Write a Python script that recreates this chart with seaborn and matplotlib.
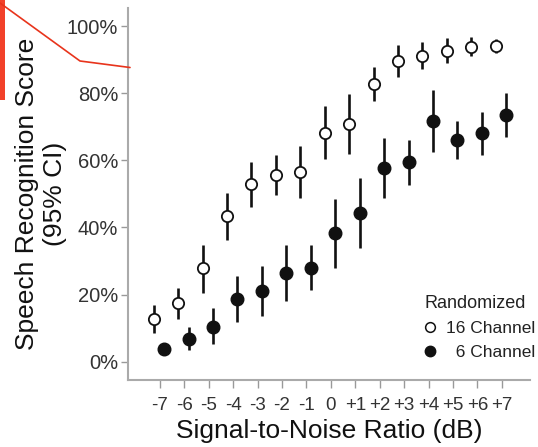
import numpy as np
import pandas as pd
import matplotlib.pyplot as plt
import seaborn as sns
from matplotlib.lines import Line2D
from matplotlib.patches import Rectangle

snr = [-7, -6, -5, -4, -3, -2, -1, 0, 1, 2, 3, 4, 5, 6, 7]
snr_labels = ["-7", "-6", "-5", "-4", "-3", "-2", "-1", "0",
              "+1", "+2", "+3", "+4", "+5", "+6", "+7"]

# 16 channel (open circles)
ch16_mean = [12.6, 17.4, 27.8, 43.4, 52.9, 55.6, 56.6, 68.3, 70.8, 82.7, 89.6, 91.1, 92.7, 93.9, 94.1]
ch16_lo = [8.5, 12.6, 20.6, 36.3, 46.2, 49.7, 48.7, 60.3, 61.9, 77.8, 84.8, 87.2, 88.9, 91.1, 91.9]
ch16_hi = [17.0, 22.0, 34.8, 50.2, 59.4, 61.6, 64.4, 76.2, 79.8, 87.9, 94.4, 95.4, 96.4, 96.7, 96.1]

# 6 channel (filled circles)
ch6_mean = [3.7, 6.8, 10.4, 18.7, 21.1, 26.3, 28.0, 38.3, 44.2, 57.6, 59.4, 71.7, 66.1, 68.1, 73.6]
ch6_lo = [2.0, 3.5, 5.3, 11.9, 13.6, 18.2, 21.4, 27.8, 33.8, 48.7, 52.7, 62.6, 60.4, 61.6, 66.9]
ch6_hi = [5.5, 10.4, 15.9, 25.5, 28.5, 34.8, 34.8, 48.4, 54.7, 66.6, 66.1, 81.0, 71.8, 74.5, 80.2]

groups = ["16 Channel", "6 Channel"]
offsets = {"16 Channel": -0.25, "6 Channel": 0.18}

df = pd.concat([
    pd.DataFrame({"snr": snr, "group": "16 Channel", "mean": ch16_mean, "lo": ch16_lo, "hi": ch16_hi}),
    pd.DataFrame({"snr": snr, "group": "6 Channel", "mean": ch6_mean, "lo": ch6_lo, "hi": ch6_hi}),
])
df["x"] = df["snr"] + df["group"].map(offsets)
df[["mean", "lo", "hi"]] = df[["mean", "lo", "hi"]] / 100

sns.set_theme(style="ticks")
plt.rcParams["font.family"] = ["Liberation Sans", "DejaVu Sans"]
plt.rcParams["text.color"] = "#222222"

fig = plt.figure(figsize=(5.38, 4.47), dpi=100)
ax = fig.add_axes([128 / 538, 1 - 380 / 447, 402 / 538, 372 / 447])

for g in groups:
    d = df[df["group"] == g]
    ax.vlines(d["x"], d["lo"], d["hi"], color="#111111", lw=1.9, zorder=2)

d16 = df[df["group"] == "16 Channel"]
d6 = df[df["group"] == "6 Channel"]
sns.scatterplot(data=d16, x="x", y="mean", ax=ax, s=66, marker="o",
                facecolor="white", edgecolor="#111111", linewidth=1.3, zorder=3, legend=False)
sns.scatterplot(data=d6, x="x", y="mean", ax=ax, s=82, marker="o",
                color="#111111", edgecolor="#111111", linewidth=1.0, zorder=3, legend=False)

ax.set_xlim(-8.3, 8.15)
ax.set_ylim(-0.0545, 1.054)
ax.set_xticks(snr)
ax.set_xticklabels(snr_labels)
ax.set_yticks([0, 0.2, 0.4, 0.6, 0.8, 1.0])
ax.set_yticklabels(["0%", "20%", "40%", "60%", "80%", "100%"])

ax.tick_params(axis="x", length=6, width=1, color="#999999", labelsize=13.5, labelcolor="#333333", pad=6)
ax.tick_params(axis="y", length=5, width=1, color="#999999", labelsize=14.5, labelcolor="#333333", pad=2)
sns.despine(ax=ax)
for s in ["left", "bottom"]:
    ax.spines[s].set_color("#aaaaaa")
    ax.spines[s].set_linewidth(1.5)

ax.set_xlabel("Signal-to-Noise Ratio (dB)", fontsize=19, labelpad=4, color="#111111")
ax.set_ylabel("Speech Recognition Score\n(95% CI)", fontsize=19, labelpad=0, color="#111111",
              linespacing=1.2)

handles = [
    Line2D([], [], marker="o", ls="none", markersize=7, markerfacecolor="white",
           markeredgecolor="#111111", markeredgewidth=1.1),
    Line2D([], [], marker="o", ls="none", markersize=7.5, markerfacecolor="#111111",
           markeredgecolor="#111111"),
]
leg = ax.legend(handles, ["16 Channel", "  6 Channel"], title="Randomized", frameon=False,
                loc="upper left", bbox_to_anchor=(424 / 538, 1 - 295 / 447),
                bbox_transform=fig.transFigure, fontsize=12.5, title_fontsize=13,
                alignment="left", handletextpad=0.55, handlelength=0.7,
                borderpad=0, borderaxespad=0, labelspacing=0.5)

# red annotation remnants at top-left
fig.add_artist(Rectangle((0, 1 - 100 / 447), 5 / 538, 100 / 447, transform=fig.transFigure,
                         facecolor="#f2412a", edgecolor="none"))
fig.add_artist(Line2D([0, 80 / 538, 130 / 538], [1 - 3 / 447, 1 - 61 / 447, 1 - 67.5 / 447],
                      transform=fig.transFigure, color="#e8341c", lw=1.2))

fig.savefig("out.png", dpi=100)
